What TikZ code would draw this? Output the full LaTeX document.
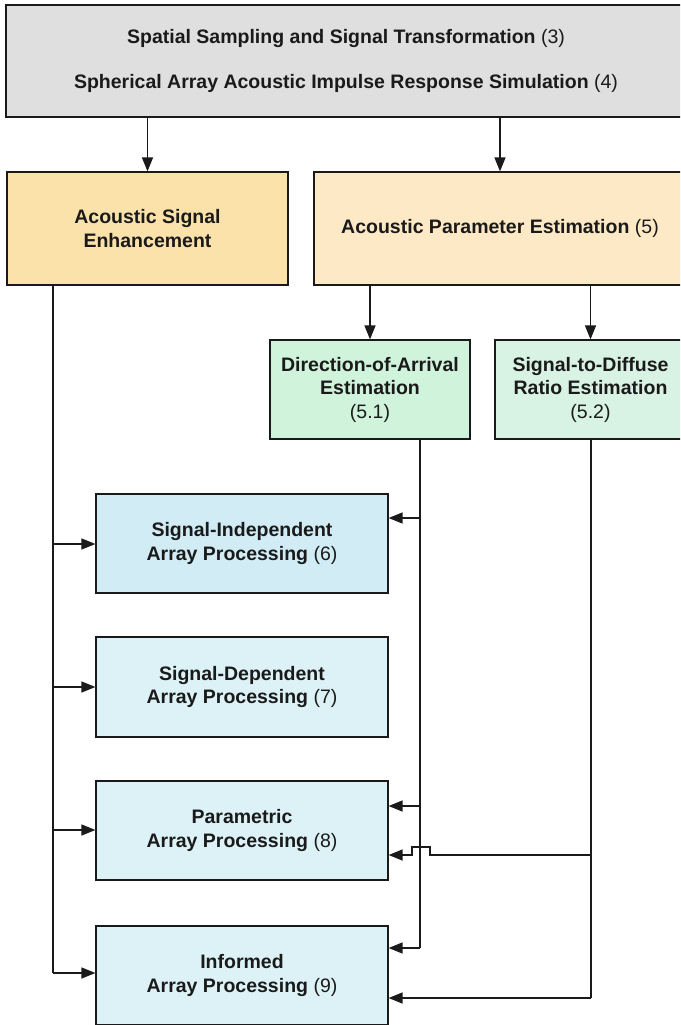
\documentclass[tikz,border=0pt]{standalone}
\usepackage{fontspec}
\setmainfont{Liberation Sans}
\usetikzlibrary{arrows.meta}
\definecolor{cgray}{HTML}{DFDFDF}
\definecolor{cyel}{HTML}{FBE2AA}
\definecolor{cyel2}{HTML}{FDE9C6}
\definecolor{cgreen}{HTML}{CFF3DB}
\definecolor{cgreen2}{HTML}{D8F3E3}
\definecolor{cblue}{HTML}{D1ECF5}
\definecolor{cblue2}{HTML}{DCF2F7}
\definecolor{cline}{HTML}{1A1A1A}
\tikzset{
  box/.style={draw=cline, line width=1.2pt, align=center, inner sep=0pt,
    font=\fontsize{19.5}{23.5}\selectfont, text=cline},
  conn/.style={draw=cline, line width=1.4pt, -{Triangle[length=14pt,width=11pt]}},
  wire/.style={draw=cline, line width=1.4pt},
}
\newcommand{\bt}[1]{\textbf{#1}}
\begin{document}
\begin{tikzpicture}[x=1pt,y=-1pt]
\useasboundingbox (0,0) rectangle (680,1025);
\clip (0,0) rectangle (680,1025);
\fill[white] (0,0) rectangle (680,1025);
% boxes
\node[box, fill=cgray, minimum width=680pt, minimum height=112pt] (top) at (346,61)
  {\bt{Spatial Sampling and Signal Transformation} (3)\\[21pt]\bt{Spherical Array Acoustic Impulse Response Simulation} (4)};
\node[box, fill=cyel, minimum width=281pt, minimum height=113pt] (ase) at (147.5,228.5)
  {\bt{Acoustic Signal}\\\bt{Enhancement}};
\node[box, fill=cyel2, minimum width=372pt, minimum height=113pt] (ape) at (500,228.5)
  {\bt{Acoustic Parameter Estimation} (5)};
\node[box, fill=cgreen, minimum width=200pt, minimum height=99pt] (doa) at (370,389.5)
  {\bt{Direction-of-Arrival}\\\bt{Estimation}\\(5.1)};
\node[box, fill=cgreen2, minimum width=191pt, minimum height=99pt] (sdr) at (590.5,389.5)
  {\bt{Signal-to-Diffuse}\\\bt{Ratio Estimation}\\(5.2)};
\node[box, fill=cblue, minimum width=292pt, minimum height=99pt] (b6) at (242,543.5)
  {\bt{Signal-Independent}\\\bt{Array Processing} (6)};
\node[box, fill=cblue2, minimum width=292pt, minimum height=100pt] (b7) at (242,687)
  {\bt{Signal-Dependent}\\\bt{Array Processing} (7)};
\node[box, fill=cblue2, minimum width=292pt, minimum height=99pt] (b8) at (242,830.5)
  {\bt{Parametric}\\\bt{Array Processing} (8)};
\node[box, fill=cblue2, minimum width=292pt, minimum height=99pt] (b9) at (242,975.5)
  {\bt{Informed}\\\bt{Array Processing} (9)};
% top connectors
\draw[conn] (top.south -| ase.north) -- (ase.north);
\draw[conn] (top.south -| ape.north) -- (ape.north);
\draw[conn] (ape.south -| doa.north) -- (doa.north);
\draw[conn] (ape.south -| sdr.north) -- (sdr.north);
% left bus
\coordinate (lb) at (53,973);
\draw[wire] (ase.south -| lb) -- (lb);
\draw[conn] (53,544) -- (b6.west |- 0,544);
\draw[conn] (53,687) -- (b7.west |- 0,687);
\draw[conn] (53,830) -- (b8.west |- 0,830);
\draw[conn] (lb) -- (b9.west |- lb);
% DOA bus
\coordinate (db) at (420,948);
\draw[wire] (doa.south -| db) -- (db);
\draw[conn] (420,518) -- (b6.east |- 0,518);
\draw[conn] (420,806) -- (b8.east |- 0,806);
\draw[conn] (db) -- (b9.east |- db);
% SDR bus
\coordinate (sb) at (591,998);
\draw[wire] (sdr.south -| sb) -- (sb);
\draw[conn] (sb) -- (b9.east |- sb);
\draw[conn] (591,855) -- (430,855) -- (430,847) -- (412,847) -- (412,855) -- (b8.east |- 0,855);
\end{tikzpicture}
\end{document}
